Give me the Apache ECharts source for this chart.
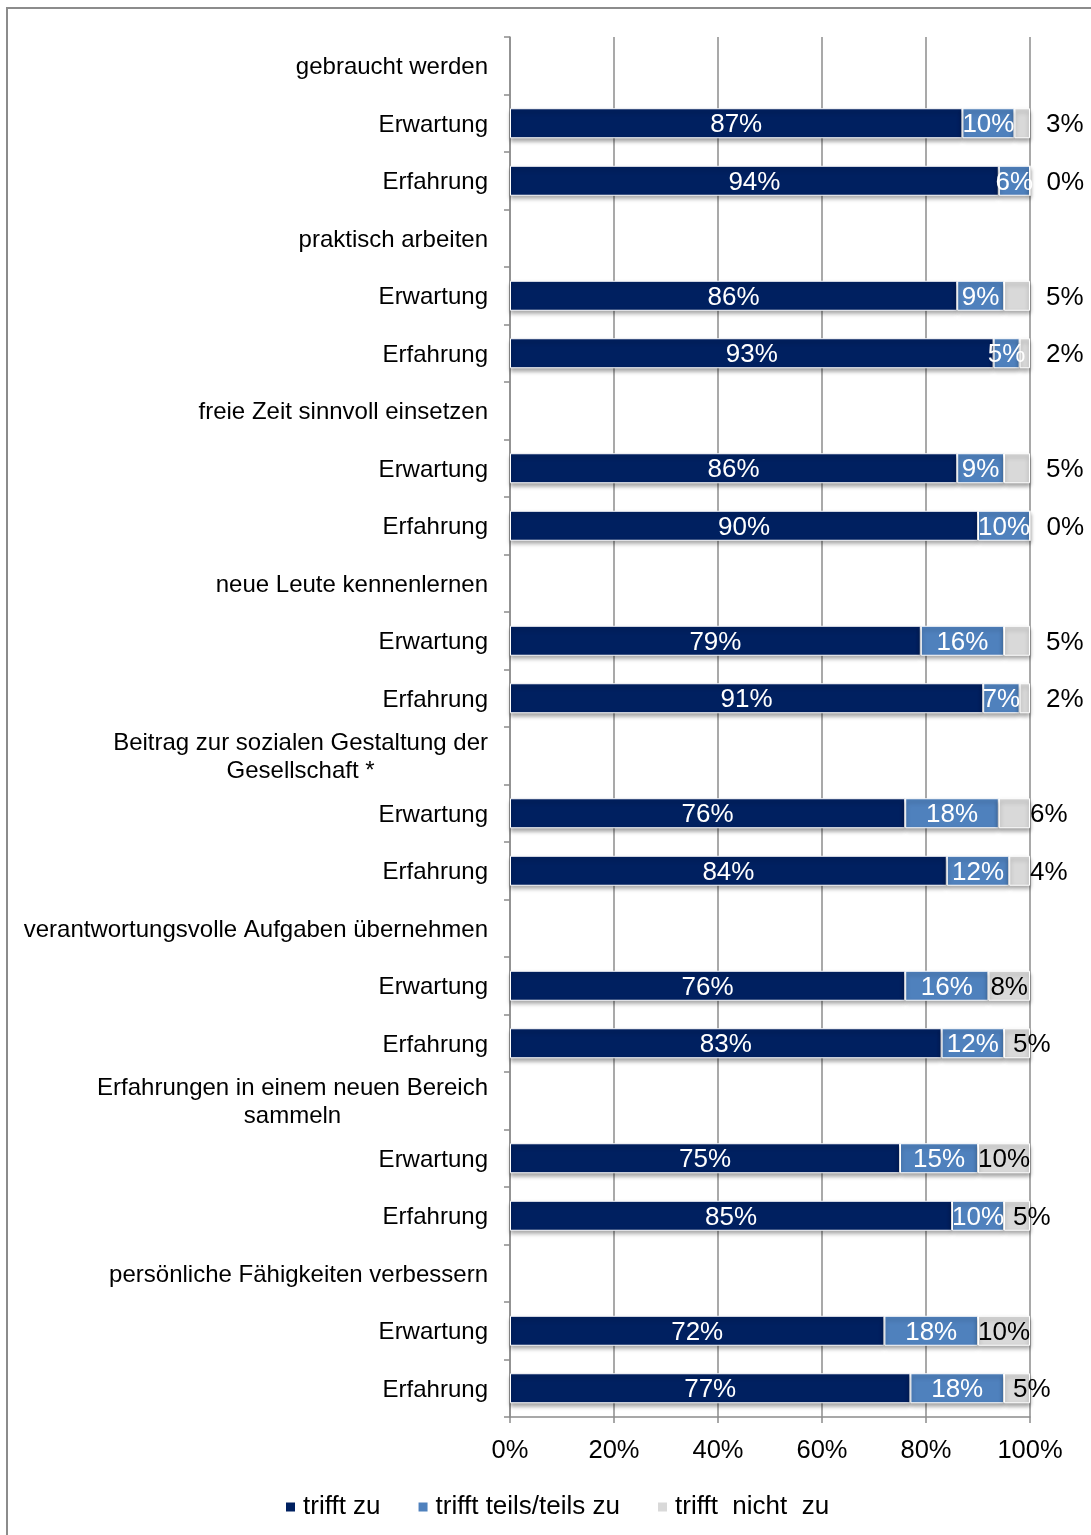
<!DOCTYPE html>
<html>
<head>
<meta charset="utf-8">
<title>Erwartung und Erfahrung</title>
<script src="https://cdn.jsdelivr.net/npm/echarts@6/dist/echarts.min.js"></script>
<style>
    html, body { margin: 0; padding: 0; background: #fff; }
    #chart { width: 1091px; height: 1535px; }
</style>
</head>
<body>
<div id="chart"></div>
<script>
// Kategorien (Kopfzeile + Erwartung/Erfahrung je Aussage)
const categories = [
    'gebraucht werden', 'Erwartung', 'Erfahrung',
    'praktisch arbeiten', 'Erwartung', 'Erfahrung',
    'freie Zeit sinnvoll einsetzen', 'Erwartung', 'Erfahrung',
    'neue Leute kennenlernen', 'Erwartung', 'Erfahrung',
    'Beitrag zur sozialen Gestaltung der\nGesellschaft *', 'Erwartung', 'Erfahrung',
    'verantwortungsvolle Aufgaben übernehmen', 'Erwartung', 'Erfahrung',
    'Erfahrungen in einem neuen Bereich\nsammeln', 'Erwartung', 'Erfahrung',
    'persönliche Fähigkeiten verbessern', 'Erwartung', 'Erfahrung'
];
const trifftZu = [null, 87, 94, null, 86, 93, null, 86, 90, null, 79, 91,
    null, 76, 84, null, 76, 83, null, 75, 85, null, 72, 77];
const trifftTeils = [null, 10, 6, null, 9, 5, null, 9, 10, null, 16, 7,
    null, 18, 12, null, 16, 12, null, 15, 10, null, 18, 18];
const trifftNicht = [null, 3, 0, null, 5, 2, null, 5, 0, null, 5, 2,
    null, 6, 4, null, 8, 5, null, 10, 5, null, 10, 5];
const xTicks = ['0%', '20%', '40%', '60%', '80%', '100%'];
const seriesNames = ['trifft zu', 'trifft teils/teils zu', 'trifft  nicht  zu'];

const FONT = '"Liberation Sans", Arial, sans-serif';
const shadow = { shadowColor: 'rgba(0,0,0,0.35)', shadowBlur: 4, shadowOffsetY: 3 };

// Beschriftung der grauen Segmente wie im Original versetzt
function greyLabel(i, v) {
    if (v >= 8) return { position: 'inside' };
    if (i < 12) return { position: 'right', distance: 16 };
    if (v === 6 || v === 4) return { position: 'right', distance: 0 };
    return { position: 'insideLeft', distance: 9 };
}

const chart = echarts.init(document.getElementById('chart'));
chart.setOption({
    animation: false,
    textStyle: { fontFamily: FONT },
    graphic: [{
        type: 'rect',
        shape: { x: 7, y: 8, width: 1200, height: 1600 },
        style: { fill: 'none', stroke: '#8c8c8c', lineWidth: 2 },
        silent: true
    }],
    grid: { left: 510, right: 61, top: 37, bottom: 118 },
    legend: {
        left: 279,
        top: 1489,
        icon: 'rect',
        itemWidth: 11,
        itemHeight: 11,
        itemGap: 36,
        textStyle: { fontSize: 26, color: '#000', fontFamily: FONT, padding: [0, 0, 0, 2] },
        data: seriesNames
    },
    xAxis: {
        type: 'value',
        min: 0,
        max: 100,
        interval: 20,
        axisLine: { show: true, lineStyle: { color: '#8c8c8c', width: 1.5 } },
        axisTick: { show: true, length: 6, lineStyle: { color: '#8c8c8c', width: 1.5 } },
        axisLabel: {
            fontSize: 25.5, color: '#000', margin: 21,
            formatter: v => xTicks[Math.round(v / 20)]
        },
        splitLine: { show: true, lineStyle: { color: '#8c8c8c', width: 1.5 } }
    },
    yAxis: {
        type: 'category',
        inverse: true,
        data: categories,
        axisLine: { show: true, lineStyle: { color: '#8c8c8c', width: 1.5 } },
        axisTick: { show: true, length: 6, lineStyle: { color: '#8c8c8c', width: 1.5 } },
        axisLabel: {
            fontSize: 24,
            color: '#000',
            margin: 22,
            formatter: function (val) {
                return val.split('\n').map(s => '{c|' + s + '}').join('\n');
            },
            rich: {
                c: { fontSize: 24, color: '#000', align: 'center', lineHeight: 28, fontFamily: FONT, padding: [4, 0, 0, 0] }
            }
        }
    },
    series: [
        {
            name: seriesNames[0],
            type: 'bar',
            stack: 'total',
            barWidth: 30,
            data: trifftZu,
            itemStyle: Object.assign({ color: '#002060', borderColor: '#fff', borderWidth: 1 }, shadow),
            label: {
                show: true, position: 'inside', color: '#fff', fontSize: 26, offset: [0, 2],
                formatter: p => p.value == null ? '' : p.value + '%'
            }
        },
        {
            name: seriesNames[1],
            type: 'bar',
            stack: 'total',
            barWidth: 30,
            data: trifftTeils,
            itemStyle: Object.assign({ color: '#4f81bd', borderColor: '#fff', borderWidth: 1 }, shadow),
            label: {
                show: true, position: 'inside', color: '#fff', fontSize: 26, offset: [0, 2],
                formatter: p => p.value == null ? '' : p.value + '%'
            }
        },
        {
            name: seriesNames[2],
            type: 'bar',
            stack: 'total',
            barWidth: 30,
            data: trifftNicht.map((v, i) => v == null ? null : {
                value: v,
                label: greyLabel(i, v)
            }),
            itemStyle: Object.assign({ color: '#d9d9d9', borderColor: '#fff', borderWidth: 1 }, shadow),
            label: {
                show: true, color: '#000', fontSize: 26, offset: [0, 2],
                formatter: p => p.value == null ? '' : p.value + '%'
            }
        }
    ]
});
</script>
</body>
</html>
